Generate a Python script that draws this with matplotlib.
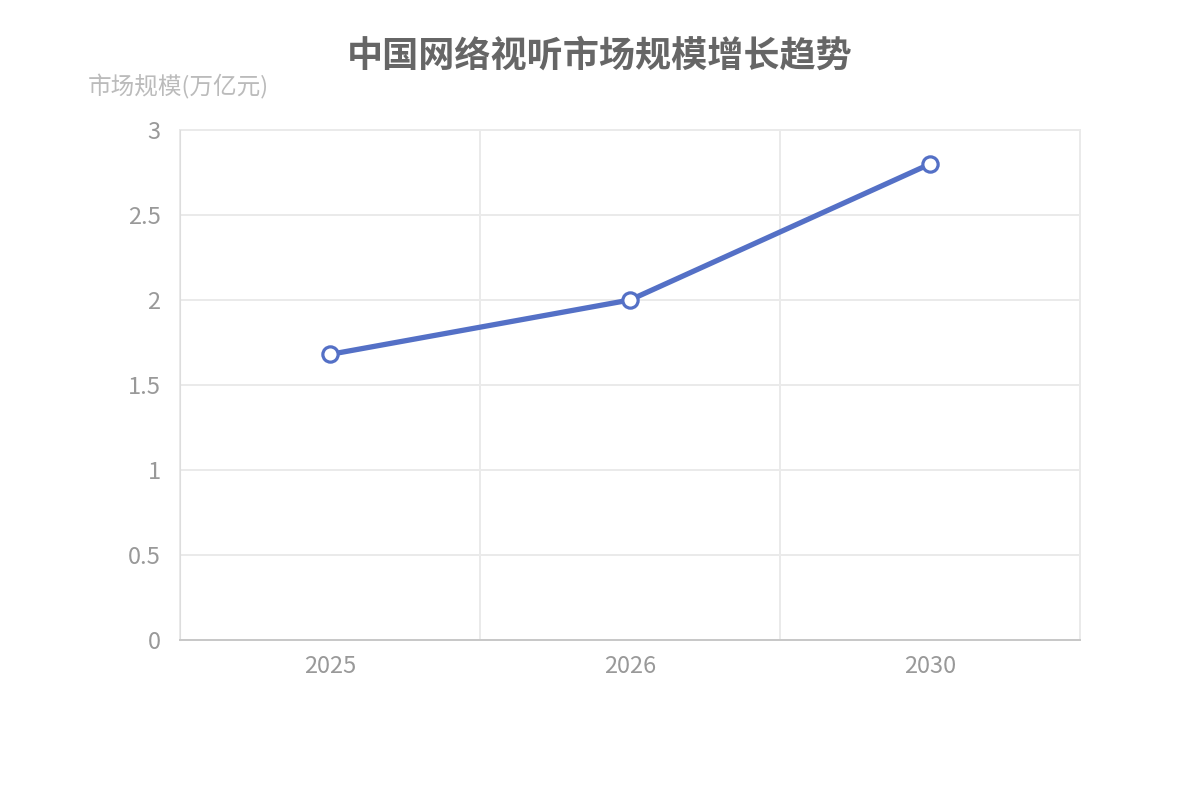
import matplotlib
matplotlib.use('Agg')
import matplotlib.pyplot as plt

# data
years = ['2025', '2026', '2030']
market_size = [1.68, 2.0, 2.8]   # 万亿元
y_ticks = [0, 0.5, 1, 1.5, 2, 2.5, 3]
y_tick_labels = ['0', '0.5', '1', '1.5', '2', '2.5', '3']

plt.rcParams['font.family'] = ['Noto Sans CJK SC', 'DejaVu Sans']

fig = plt.figure(figsize=(12, 8), dpi=100)
ax = fig.add_axes([0.15, 0.2, 0.75, 0.6375])

line_color = '#5470c6'
x = list(range(len(years)))
ax.plot(x, market_size, color=line_color, linewidth=3.8, marker='o',
        markersize=11, markerfacecolor='white', markeredgecolor=line_color,
        markeredgewidth=2.3, zorder=3)

ax.set_xlim(-0.5, len(years) - 0.5)
ax.set_ylim(0, 3)

# category boundaries carry the vertical grid lines
bounds = [i - 0.5 for i in range(len(years) + 1)]
ax.set_xticks(bounds)
ax.set_xticklabels([])
ax.set_xticks(x, minor=True)
ax.set_xticklabels(years, minor=True)
ax.tick_params(axis='x', which='major', length=0)
ax.tick_params(axis='x', which='minor', length=0, pad=11, labelsize=17,
               labelcolor='#999999')

ax.set_yticks(y_ticks)
ax.set_yticklabels(y_tick_labels)
ax.tick_params(axis='y', length=0, pad=14, labelsize=17, labelcolor='#999999')

ax.grid(True, which='major', color='#eaeaea', linewidth=1.4)
ax.set_axisbelow(True)
for gl in ax.get_xgridlines() + ax.get_ygridlines():
    gl.set_clip_on(False)

for side in ['top', 'right']:
    ax.spines[side].set_visible(False)
ax.spines['left'].set_color('#dddddd')
ax.spines['bottom'].set_color('#c8c8c8')
ax.spines['bottom'].set_linewidth(1.4)

fig.text(0.5, 0.93, '中国网络视听市场规模增长趋势', ha='center', va='center',
         fontsize=26, fontweight='bold', color='#666666')
fig.text(0.0733, 0.892, '市场规模(万亿元)', ha='left', va='center',
         fontsize=17, color='#bbbbbb')

fig.savefig('out.png', dpi=100, facecolor='white')
